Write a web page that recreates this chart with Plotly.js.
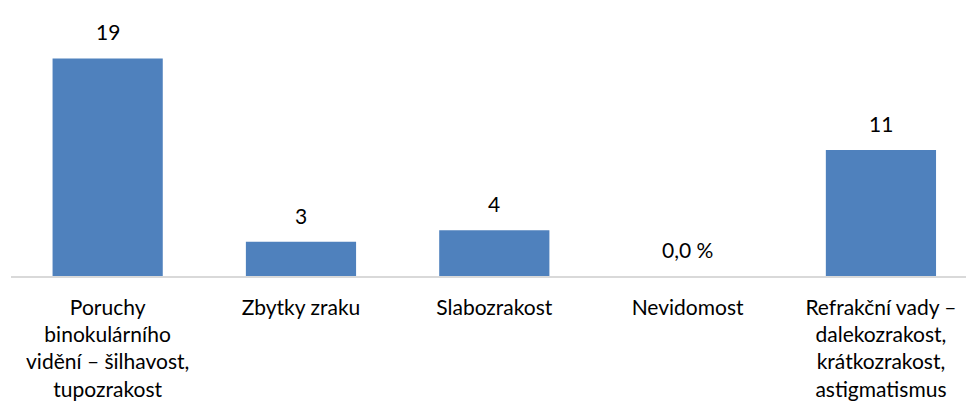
<!DOCTYPE html>
<html>
<head>
<meta charset="utf-8">
<script src="https://cdn.plot.ly/plotly-3.0.1.min.js"></script>
<style>html,body{margin:0;padding:0;background:#fff;}#chart{width:966px;height:405px;}</style>
</head>
<body>
<div id="chart"></div>
<script>
const categories = [
  'Poruchy<br>binokulárního<br>vidění – šilhavost,<br>tupozrakost',
  'Zbytky zraku',
  'Slabozrakost',
  'Nevidomost',
  'Refrakční vady –<br>dalekozrakost,<br>krátkozrakost,<br>astigmatismus'
];
const values = [19, 3, 4, 0, 11];
const valueLabels = ['19', '3', '4', '0,0 %', '11'];

const FONT = 'Lato, "Liberation Sans", Arial, sans-serif';

const trace = {
  type: 'bar',
  x: categories.map((c, i) => i),
  y: values,
  marker: {color: '#4f81bd', line: {width: 0}},
  hoverinfo: 'none'
};

const annotations = values.map((v, i) => ({
  x: i, y: v, xref: 'x', yref: 'y',
  text: valueLabels[i], showarrow: false,
  yanchor: 'bottom', yshift: 12,
  font: {family: FONT, size: 21, color: '#000'}
}));

const layout = {
  width: 966, height: 405,
  margin: {l: 11, r: 0, t: 47, b: 129},
  paper_bgcolor: '#fff', plot_bgcolor: '#fff',
  bargap: 0.43,
  showlegend: false,
  font: {family: FONT, size: 21, color: '#000'},
  xaxis: {
    range: [-0.5, 4.44],
    tickmode: 'array',
    tickvals: categories.map((c, i) => i),
    ticktext: categories,
    showline: true, linecolor: '#d9d9d9', linewidth: 1.5,
    showgrid: false, zeroline: false,
    ticks: '', ticklabelstandoff: 12,
    tickfont: {family: FONT, size: 21, color: '#000'},
    fixedrange: true
  },
  yaxis: {
    range: [0, 20],
    visible: false, showgrid: false, zeroline: false,
    fixedrange: true
  },
  annotations: annotations
};

Plotly.newPlot('chart', [trace], layout, {displayModeBar: false, staticPlot: true});
</script>
</body>
</html>
